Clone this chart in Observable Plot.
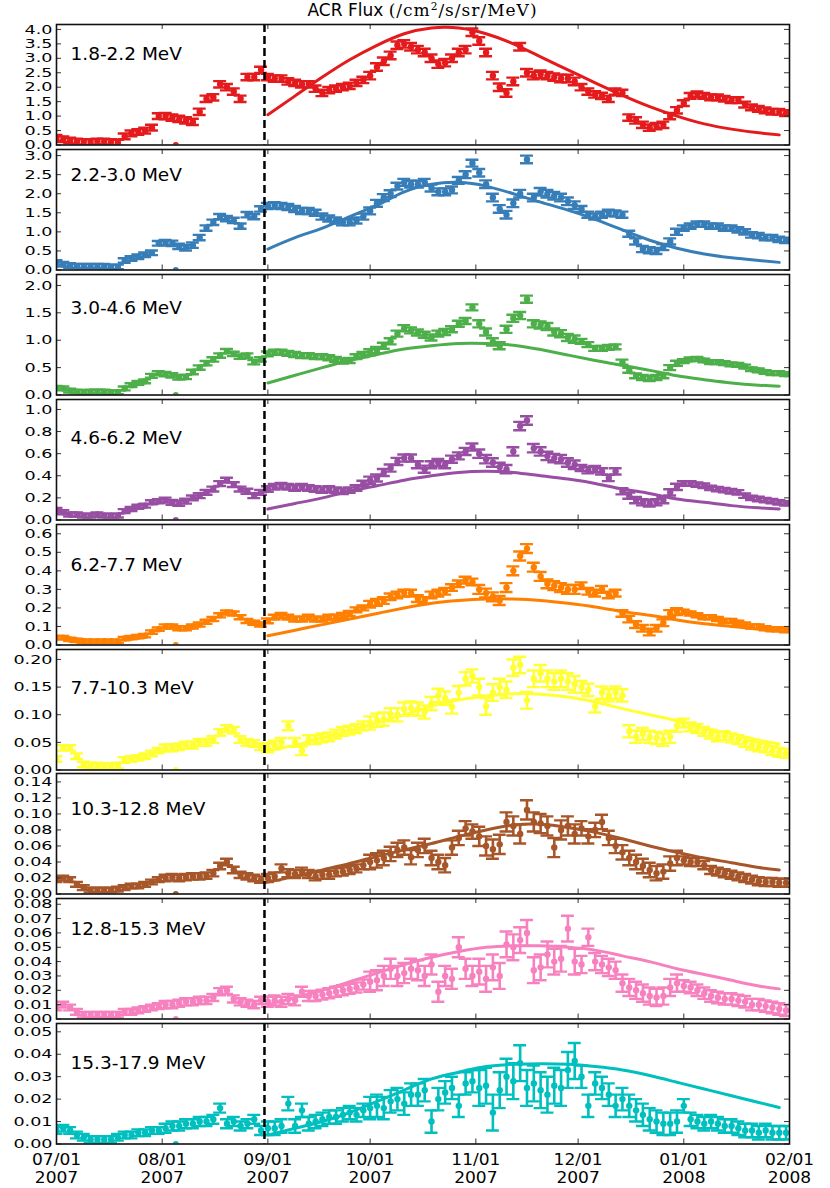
<!DOCTYPE html>
<html>
<head>
<meta charset="utf-8">
<script src="https://cdn.jsdelivr.net/npm/d3@7"></script>
<script src="https://cdn.jsdelivr.net/npm/@observablehq/plot@0.6"></script>
<style>
  body { margin: 0; background: #fff; }
  #wrap { position: relative; width: 830px; height: 1188px; font-family: "DejaVu Sans", sans-serif; overflow: hidden; }
  #title { position: absolute; left: 0; width: 845px; top: 0px; text-align: center; font-size: 17px; line-height: 20px; color: #000; white-space: nowrap; }
  #title .m { font-family: "DejaVu Serif", serif; font-size: 17px; letter-spacing: 1px; }
  #title sup { font-size: 0.62em; line-height: 0; vertical-align: 0.55em; }
  #wrap svg { position: absolute; left: 0; }
</style>
</head>
<body>
<div id="wrap">
  <div id="title">ACR Flux <span class="m">(/cm<sup>2</sup>/s/sr/MeV)</span></div>
</div>
<script>
// ---------------- data ----------------
const labels = ["1.8-2.2 MeV","2.2-3.0 MeV","3.0-4.6 MeV","4.6-6.2 MeV","6.2-7.7 MeV",
                "7.7-10.3 MeV","10.3-12.8 MeV","12.8-15.3 MeV","15.3-17.9 MeV"];
const colors = ["#e41a1c","#377eb8","#4daf4a","#984ea3","#ff7f00","#ffff33","#a65628","#f781bf","#00bfbf"];

// samples every 2 days starting 2007-07-01 (day 0 .. day 214)
const sampleDays = d3.range(0, 215, 2);

const flux1 = [
0.25,0.2,0.15,0.12,0.1,0.1,0.12,0.12,0.1,0.08,
0.3,0.4,0.45,0.5,0.6,1.0,1.0,0.95,0.9,0.85,
0.8,1.15,1.6,1.65,2.1,2.0,1.85,1.6,2.35,2.35,
2.6,2.35,2.3,2.3,2.2,2.15,2.1,2.1,1.95,1.8,
1.9,1.95,2.0,2.05,2.15,2.25,2.4,2.7,2.9,3.1,
3.45,3.5,3.4,3.3,3.2,3.0,2.8,2.85,3.0,3.2,
3.3,3.9,3.6,3.2,2.4,2.0,1.8,2.2,3.4,2.5,
2.4,2.45,2.4,2.35,2.3,2.3,2.2,2.0,1.85,1.75,
1.7,1.6,1.85,1.8,0.95,0.85,0.7,0.6,0.65,0.7,
1.0,1.2,1.45,1.7,1.75,1.7,1.65,1.65,1.6,1.55,
1.55,1.4,1.3,1.25,1.2,1.15,1.15,1.1];
const flux2 = [
0.2,0.15,0.12,0.1,0.1,0.1,0.1,0.1,0.08,0.08,
0.25,0.3,0.35,0.4,0.45,0.7,0.72,0.7,0.62,0.58,
0.65,0.85,1.1,1.25,1.4,1.35,1.3,1.15,1.45,1.4,
1.6,1.68,1.7,1.68,1.65,1.6,1.55,1.55,1.5,1.4,
1.35,1.3,1.25,1.25,1.3,1.4,1.55,1.75,1.9,2.0,
2.2,2.3,2.25,2.25,2.3,2.15,2.05,2.05,2.1,2.35,
2.5,2.8,2.55,2.25,1.9,1.6,1.45,1.75,2.0,2.9,
1.9,2.05,2.0,1.95,1.9,1.8,1.7,1.6,1.45,1.4,
1.45,1.5,1.48,1.45,0.95,0.75,0.55,0.52,0.5,0.6,
0.75,1.0,1.1,1.15,1.2,1.2,1.15,1.15,1.1,1.1,
1.05,1.0,0.92,0.9,0.85,0.85,0.8,0.78];
const flux3 = [
0.13,0.12,0.08,0.06,0.05,0.06,0.06,0.06,0.05,0.05,
0.12,0.18,0.22,0.25,0.35,0.4,0.38,0.36,0.32,0.33,
0.42,0.5,0.58,0.65,0.72,0.8,0.75,0.7,0.72,0.6,
0.65,0.75,0.78,0.78,0.76,0.74,0.72,0.72,0.7,0.7,
0.68,0.65,0.62,0.63,0.7,0.74,0.78,0.82,0.9,0.98,
1.12,1.22,1.18,1.14,1.1,1.05,1.12,1.15,1.2,1.3,
1.35,1.6,1.3,1.15,0.97,0.9,1.2,1.4,1.45,1.75,
1.3,1.28,1.25,1.15,1.12,1.05,1.02,0.98,0.92,0.85,
0.85,0.87,0.88,0.6,0.45,0.35,0.32,0.3,0.32,0.35,
0.5,0.58,0.62,0.65,0.66,0.63,0.6,0.6,0.58,0.56,
0.55,0.52,0.47,0.45,0.42,0.4,0.4,0.38];
const flux4 = [
0.09,0.07,0.05,0.05,0.04,0.04,0.05,0.04,0.04,0.04,
0.08,0.1,0.12,0.13,0.16,0.17,0.18,0.16,0.15,0.17,
0.2,0.22,0.25,0.28,0.33,0.36,0.32,0.28,0.26,0.22,
0.25,0.28,0.3,0.31,0.3,0.29,0.3,0.29,0.28,0.27,
0.28,0.27,0.26,0.27,0.29,0.33,0.36,0.38,0.43,0.47,
0.53,0.56,0.56,0.5,0.46,0.5,0.52,0.5,0.55,0.58,
0.62,0.66,0.6,0.55,0.52,0.48,0.46,0.62,0.85,0.9,
0.65,0.62,0.58,0.56,0.55,0.52,0.5,0.47,0.45,0.46,
0.44,0.38,0.44,0.26,0.22,0.18,0.16,0.15,0.16,0.18,
0.25,0.3,0.33,0.33,0.32,0.31,0.29,0.28,0.27,0.26,
0.25,0.22,0.2,0.19,0.18,0.17,0.16,0.15];
const flux5 = [
0.04,0.04,0.03,0.025,0.02,0.02,0.02,0.02,0.02,0.02,
0.035,0.04,0.045,0.05,0.07,0.085,0.1,0.1,0.09,0.09,
0.1,0.11,0.125,0.14,0.16,0.175,0.17,0.15,0.13,0.12,
0.11,0.13,0.15,0.16,0.15,0.14,0.14,0.15,0.14,0.14,
0.15,0.15,0.16,0.17,0.19,0.2,0.22,0.23,0.24,0.26,
0.27,0.28,0.28,0.25,0.24,0.27,0.28,0.29,0.31,0.33,
0.35,0.34,0.3,0.28,0.26,0.24,0.31,0.4,0.48,0.52,
0.42,0.37,0.33,0.32,0.31,0.3,0.3,0.32,0.29,0.28,
0.3,0.27,0.28,0.17,0.14,0.11,0.09,0.07,0.09,0.12,
0.17,0.18,0.18,0.17,0.16,0.15,0.15,0.14,0.13,0.13,
0.12,0.11,0.1,0.1,0.09,0.085,0.085,0.08];
const flux6 = [
0.02,0.04,0.04,0.025,0.01,0.008,0.008,0.007,0.007,0.008,
0.018,0.02,0.022,0.025,0.03,0.035,0.04,0.04,0.042,0.045,
0.045,0.05,0.05,0.055,0.068,0.075,0.072,0.055,0.05,0.048,
0.042,0.04,0.045,0.05,0.08,0.05,0.035,0.055,0.055,0.058,
0.06,0.065,0.07,0.072,0.075,0.08,0.085,0.09,0.092,0.1,
0.1,0.11,0.112,0.11,0.105,0.12,0.135,0.13,0.114,0.14,
0.165,0.17,0.15,0.115,0.14,0.15,0.145,0.185,0.19,0.126,
0.165,0.175,0.165,0.16,0.165,0.16,0.155,0.15,0.145,0.115,
0.14,0.135,0.14,0.135,0.07,0.06,0.065,0.06,0.058,0.055,
0.06,0.08,0.085,0.078,0.075,0.07,0.065,0.06,0.062,0.058,
0.055,0.05,0.045,0.042,0.04,0.035,0.032,0.03];
const flux7 = [
0.018,0.02,0.018,0.012,0.008,0.005,0.005,0.005,0.005,0.006,
0.008,0.01,0.01,0.012,0.015,0.018,0.02,0.021,0.02,0.021,
0.022,0.022,0.023,0.026,0.035,0.04,0.03,0.024,0.022,0.02,
0.018,0.02,0.022,0.032,0.026,0.025,0.028,0.025,0.022,0.024,
0.024,0.027,0.028,0.03,0.032,0.036,0.04,0.042,0.045,0.05,
0.055,0.058,0.046,0.055,0.06,0.045,0.04,0.036,0.058,0.07,
0.082,0.078,0.072,0.06,0.056,0.062,0.09,0.085,0.075,0.105,
0.09,0.088,0.085,0.058,0.08,0.085,0.075,0.082,0.072,0.08,
0.09,0.07,0.06,0.052,0.045,0.04,0.035,0.03,0.026,0.028,
0.038,0.045,0.042,0.04,0.04,0.036,0.03,0.028,0.026,0.024,
0.022,0.02,0.018,0.016,0.015,0.015,0.014,0.014];
const flux8 = [
0.008,0.01,0.008,0.005,0.003,0.003,0.003,0.003,0.003,0.003,
0.005,0.005,0.006,0.007,0.008,0.009,0.01,0.01,0.011,0.012,
0.012,0.013,0.013,0.015,0.019,0.02,0.014,0.012,0.011,0.01,
0.013,0.012,0.013,0.012,0.014,0.013,0.019,0.016,0.016,0.017,
0.018,0.019,0.02,0.021,0.022,0.024,0.026,0.027,0.03,0.035,
0.03,0.032,0.035,0.034,0.03,0.038,0.019,0.03,0.028,0.05,
0.035,0.03,0.033,0.028,0.036,0.03,0.052,0.05,0.055,0.06,
0.034,0.036,0.045,0.04,0.042,0.063,0.04,0.038,0.057,0.04,
0.038,0.036,0.034,0.025,0.022,0.02,0.018,0.016,0.015,0.016,
0.022,0.025,0.023,0.022,0.02,0.018,0.016,0.015,0.014,0.014,
0.013,0.012,0.01,0.01,0.009,0.008,0.007,0.006];
const flux9 = [
0.006,0.007,0.006,0.004,0.003,0.002,0.002,0.002,0.002,0.003,
0.004,0.004,0.005,0.005,0.006,0.006,0.007,0.008,0.008,0.009,
0.009,0.01,0.01,0.011,0.016,0.009,0.01,0.008,0.009,0.011,
0.006,0.007,0.007,0.008,0.018,0.008,0.015,0.009,0.01,0.011,
0.012,0.012,0.013,0.014,0.013,0.015,0.016,0.017,0.016,0.019,
0.02,0.018,0.022,0.022,0.024,0.01,0.02,0.023,0.025,0.017,
0.027,0.028,0.025,0.026,0.014,0.024,0.03,0.028,0.036,0.025,
0.027,0.024,0.022,0.026,0.025,0.033,0.037,0.03,0.017,0.027,
0.025,0.022,0.017,0.02,0.017,0.015,0.013,0.011,0.01,0.009,
0.009,0.01,0.017,0.011,0.01,0.009,0.01,0.009,0.008,0.008,
0.007,0.006,0.006,0.005,0.006,0.005,0.005,0.005];

// error half-widths by month (Jul .. Jan)
const err1 = [0.1,0.11,0.11,0.13,0.13,0.11,0.1];
const err2 = [0.06,0.07,0.08,0.09,0.1,0.08,0.07];
const err3 = [0.035,0.04,0.045,0.055,0.065,0.045,0.035];
const err4 = [0.018,0.022,0.025,0.032,0.038,0.028,0.02];
const err5 = [0.009,0.011,0.013,0.018,0.024,0.018,0.011];
const err6 = [0.005,0.006,0.008,0.012,0.015,0.011,0.008];
const err7 = [0.003,0.004,0.005,0.009,0.012,0.009,0.005];
const err8 = [0.002,0.0025,0.0035,0.007,0.009,0.006,0.004];
const err9 = [0.0015,0.002,0.003,0.005,0.008,0.005,0.003];

// model fit curves (day offsets from 2007-07-01)
const fitDays = [62,70,78,86,94,102,110,118,126,134,142,150,158,166,174,182,190,198,206,212];
const fit1 = [1.05,1.7,2.35,2.95,3.45,3.85,4.05,4.05,3.85,3.5,3.05,2.6,2.15,1.72,1.33,1.0,0.73,0.55,0.42,0.35];
const fit2 = [0.55,0.85,1.1,1.4,1.7,2.05,2.25,2.3,2.2,2.0,1.78,1.57,1.33,1.05,0.78,0.57,0.42,0.32,0.25,0.2];
const fit3 = [0.22,0.36,0.5,0.63,0.74,0.84,0.9,0.94,0.94,0.91,0.83,0.73,0.63,0.54,0.45,0.35,0.28,0.22,0.18,0.16];
const fit4 = [0.1,0.15,0.2,0.26,0.31,0.36,0.4,0.43,0.44,0.43,0.4,0.37,0.33,0.28,0.24,0.19,0.16,0.13,0.11,0.1];
const fit5 = [0.05,0.08,0.11,0.14,0.17,0.2,0.225,0.24,0.248,0.248,0.24,0.225,0.205,0.18,0.16,0.135,0.115,0.1,0.085,0.077];
const fit6 = [0.035,0.045,0.058,0.07,0.085,0.1,0.115,0.127,0.134,0.138,0.137,0.132,0.123,0.111,0.1,0.089,0.076,0.065,0.054,0.047];
const fit7 = [0.015,0.022,0.03,0.038,0.047,0.055,0.063,0.072,0.08,0.086,0.087,0.083,0.077,0.069,0.06,0.052,0.045,0.039,0.033,0.03];
const fit8 = [0.01,0.015,0.02,0.026,0.032,0.038,0.043,0.047,0.05,0.051,0.051,0.05,0.048,0.044,0.04,0.035,0.031,0.027,0.023,0.021];
const fit9 = [0.004,0.007,0.01,0.014,0.019,0.024,0.029,0.032,0.0345,0.0355,0.0358,0.0355,0.0345,0.033,0.0305,0.0275,0.0245,0.0215,0.0185,0.0163];

// isolated low point seen in every panel
const outlierDay = 35;
const outlierValue = 0;

// axes
const yTicks1 = [0,0.5,1,1.5,2,2.5,3,3.5,4];
const yTicks2 = [0,0.5,1,1.5,2,2.5,3];
const yTicks3 = [0,0.5,1,1.5,2];
const yTicks4 = [0,0.2,0.4,0.6,0.8,1];
const yTicks5 = [0,0.1,0.2,0.3,0.4,0.5,0.6];
const yTicks6 = [0,0.05,0.1,0.15,0.2];
const yTicks7 = [0,0.02,0.04,0.06,0.08,0.1,0.12,0.14];
const yTicks8 = [0,0.01,0.02,0.03,0.04,0.05,0.06,0.07,0.08];
const yTicks9 = [0,0.01,0.02,0.03,0.04,0.05];
const yDecimals = [1,1,1,1,1,2,2,2,2];
const yMax = [4.17,3.16,2.2,1.09,0.65,0.218,0.1505,0.084,0.0537];

const startMs = Date.UTC(2007, 6, 1);
const endDate = new Date(Date.UTC(2008, 1, 1));
const dashDate = new Date(Date.UTC(2007, 7, 31));

// ---------------- layout / style ----------------
const series = [flux1,flux2,flux3,flux4,flux5,flux6,flux7,flux8,flux9];
const errs = [err1,err2,err3,err4,err5,err6,err7,err8,err9];
const fits = [fit1,fit2,fit3,fit4,fit5,fit6,fit7,fit8,fit9];
const yTicksAll = [yTicks1,yTicks2,yTicks3,yTicks4,yTicks5,yTicks6,yTicks7,yTicks8,yTicks9];
const labelBaseline = [35,31,39,44,46,44,41,36,45];

const DAY = 864e5;
const W = 830, ML = 56, MR = 41, MT = 6, MB = 6.5;
const frameH = 120.5, period = 124.9, firstTop = 24;
const plotW = W - ML - MR;
const capDays = 1.9;
const labelFont = 18.5;
const xDomain = [new Date(startMs), endDate];
const months = d3.utcMonth.range(xDomain[0], new Date(+endDate + DAY));

// widen glyphs horizontally around each text's own anchor
function stretchText(svg, fill, sx) {
  svg.querySelectorAll(`g[fill="${fill}"] text`).forEach(t => {
    let tr = t.getAttribute("transform") || "";
    const x = t.getAttribute("x");
    if (!tr && x != null && isFinite(+x)) {
      tr = `translate(${+x},0)`;
      t.removeAttribute("x");
    }
    t.setAttribute("transform", (tr + ` scale(${sx},1)`).trim());
  });
}

const wrap = document.getElementById("wrap");

for (let i = 0; i < 9; i++) {
  const last = i === 8;
  const c = colors[i];
  const mb = last ? MB + 40 : MB;
  const H = MT + frameH + mb;
  const rows = series[i].map((v, k) => {
    const date = new Date(startMs + sampleDays[k] * DAY);
    const e = errs[i][Math.min(6, d3.utcMonth.count(xDomain[0], date))];
    return {date, v, lo: v - e, hi: v + e,
            a: new Date(+date - capDays * DAY), b: new Date(+date + capDays * DAY)};
  });
  const fitRows = fitDays.map((d, k) => ({date: new Date(startMs + d * DAY), v: fits[i][k]}));
  const outlier = [{date: new Date(startMs + outlierDay * DAY), v: outlierValue}];
  const dec = yDecimals[i];

  const marks = [
    Plot.ruleX(rows, {x: "date", y1: "lo", y2: "hi", stroke: c, strokeWidth: 2.6, clip: true}),
    Plot.ruleY(rows, {y: "hi", x1: "a", x2: "b", stroke: c, strokeWidth: 2.4, clip: true}),
    Plot.ruleY(rows, {y: "lo", x1: "a", x2: "b", stroke: c, strokeWidth: 2.4, clip: true}),
    Plot.dot(rows, {x: "date", y: "v", r: 3.2, fill: c, stroke: "none", clip: true}),
    Plot.dot(outlier, {x: "date", y: "v", r: 3, fill: c, stroke: "none", clip: true}),
    Plot.line(fitRows, {x: "date", y: "v", stroke: c, strokeWidth: 3, curve: "natural"}),
    Plot.ruleX([dashDate], {stroke: "#000", strokeWidth: 2.5, strokeDasharray: "8,4"}),
    Plot.tickY(yTicksAll[i], {y: d => d, insetRight: plotW - 5, stroke: "#333", strokeWidth: 1}),
    Plot.tickY(yTicksAll[i], {y: d => d, insetLeft: plotW - 5, stroke: "#333", strokeWidth: 1}),
    Plot.tickX(months, {x: d => d, insetBottom: frameH - 5, stroke: "#333", strokeWidth: 1}),
    Plot.tickX(months, {x: d => d, insetTop: frameH - 5, stroke: "#333", strokeWidth: 1}),
    Plot.text([labels[i]], {text: d => d, frameAnchor: "top-left", textAnchor: "start", lineAnchor: "middle",
      dx: 14, dy: labelBaseline[i] - 0.32 * labelFont, fontSize: labelFont, fill: "#000"}),
    Plot.text(yTicksAll[i], {y: d => d, text: d => d.toFixed(dec), frameAnchor: "left", textAnchor: "end",
      lineAnchor: "middle", dx: -4, fontSize: 13, fill: "#010101"}),
    Plot.frame({stroke: "#111", strokeWidth: 1.6})
  ];
  if (last) {
    marks.push(Plot.text(months, {x: d => d,
      text: d => d3.utcFormat("%m/%d")(d) + "\n" + d3.utcFormat("%Y")(d),
      frameAnchor: "bottom", lineAnchor: "top", dy: 8, fontSize: 15.5, lineHeight: 1.16, fill: "#020202"}));
  }

  const svg = Plot.plot({
    width: W, height: H,
    marginLeft: ML, marginRight: MR, marginTop: MT, marginBottom: mb,
    x: {type: "utc", domain: xDomain, axis: null},
    y: {domain: [0, yMax[i]], axis: null},
    style: {background: "transparent", overflow: "visible", fontFamily: "DejaVu Sans, sans-serif", color: "#000"},
    marks
  });
  svg.style.position = "absolute";
  svg.style.left = "0px";
  svg.style.top = (firstTop + i * period - MT) + "px";
  svg.style.overflow = "visible";
  svg.style.background = "transparent";
  wrap.appendChild(svg);
  stretchText(svg, "#010101", 1.35);
  if (last) stretchText(svg, "#020202", 1.1);
}
</script>
</body>
</html>
